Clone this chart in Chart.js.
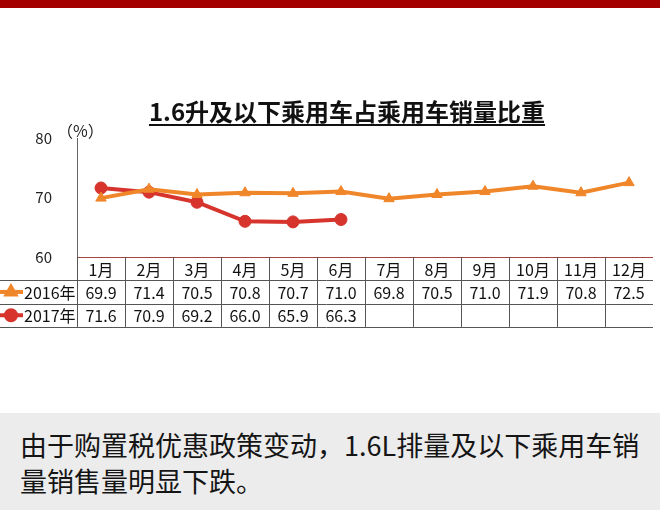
<!DOCTYPE html>
<html>
<head>
<meta charset="utf-8">
<script src="https://cdn.jsdelivr.net/npm/chart.js@4/dist/chart.umd.min.js"></script>
<style>
    html, body { margin: 0; padding: 0; background: #fff; }
    body { width: 660px; height: 510px; position: relative; overflow: hidden; font-family: "Noto Sans CJK SC", sans-serif; }
    #topbar { position: absolute; left: 0; top: 0; width: 660px; height: 8px; background: #a40000; }
    #chart { position: absolute; left: 0; top: 0; }
    #caption {
        position: absolute; left: 0; top: 413px; width: 660px; height: 97px;
        background: #ececec; box-sizing: border-box; padding: 14px 0 0 20px;
        font-size: 27px; line-height: 36px; color: #151515; white-space: nowrap;
    }
</style>
</head>
<body>
<div id="topbar"></div>
<canvas id="chart" width="660" height="340"></canvas>
<div id="caption">由于购置税优惠政策变动，1.6L排量及以下乘用车销<br>量销售量明显下跌。</div>
<script>
// Chart data
const months = ['1月', '2月', '3月', '4月', '5月', '6月', '7月', '8月', '9月', '10月', '11月', '12月'];
const series2016 = [69.9, 71.4, 70.5, 70.8, 70.7, 71.0, 69.8, 70.5, 71.0, 71.9, 70.8, 72.5];
const series2017 = [71.6, 70.9, 69.2, 66.0, 65.9, 66.3, null, null, null, null, null, null];
const seriesNames = ['2016年', '2017年'];
const yTicks = [60, 70, 80];

const chartTitle = '1.6升及以下乘用车占乘用车销量比重';
const unitLabel = '（%）';

const orange = '#f0862a';
const red = '#d6342c';
const font = '"Noto Sans CJK SC", sans-serif';

// Row layout of the data table under the plot
const rowHeight = 23.3;

// Draws the title, unit label and the data table using the chart scales
const tablePlugin = {
    id: 'dataTable',
    afterDraw(chart) {
        const ctx = chart.ctx;
        const area = chart.chartArea;
        const xScale = chart.scales.x;
        const colWidth = area.width / months.length;
        const top = area.bottom;
        const rows = [top, top + rowHeight, top + rowHeight * 2, top + rowHeight * 3];

        ctx.save();

        // Title with underline
        ctx.fillStyle = '#111';
        ctx.font = 'bold 24px ' + font;
        ctx.textAlign = 'center';
        ctx.textBaseline = 'alphabetic';
        const titleX = 347;
        const titleY = 121;
        ctx.fillText(chartTitle, titleX, titleY);
        const tw = ctx.measureText(chartTitle).width;
        ctx.fillRect(titleX - tw / 2, titleY + 3, tw, 2);

        // Unit label
        ctx.font = '16px ' + font;
        ctx.textAlign = 'left';
        ctx.fillStyle = '#222';
        ctx.fillText(unitLabel, 57, 137);

        // Table lines
        ctx.lineWidth = 1;
        ctx.strokeStyle = '#a0473f';
        ctx.beginPath();
        ctx.moveTo(area.left, rows[0] + 0.5);
        ctx.lineTo(area.right, rows[0] + 0.5);
        ctx.stroke();

        ctx.strokeStyle = '#555';
        ctx.beginPath();
        for (let r = 1; r < rows.length; r++) {
            ctx.moveTo(0, Math.round(rows[r]) + 0.5);
            ctx.lineTo(area.right, Math.round(rows[r]) + 0.5);
        }
        for (let i = 0; i < months.length; i++) {
            const x = Math.round(xScale.getPixelForValue(i) - colWidth / 2) + 0.5;
            ctx.moveTo(x, rows[0]);
            ctx.lineTo(x, rows[3]);
        }
        ctx.stroke();

        // Month headers and values
        ctx.textAlign = 'center';
        ctx.textBaseline = 'middle';
        ctx.fillStyle = '#111';
        ctx.font = '16px ' + font;
        months.forEach((m, i) => {
            const cx = xScale.getPixelForValue(i);
            ctx.fillText(m, cx, (rows[0] + rows[1]) / 2 + 1);
            ctx.fillText(series2016[i].toFixed(1), cx, (rows[1] + rows[2]) / 2 + 1);
            if (series2017[i] !== null) {
                ctx.fillText(series2017[i].toFixed(1), cx, (rows[2] + rows[3]) / 2 + 1);
            }
        });

        // Legend keys in the left column
        const keys = [
            { name: seriesNames[0], color: orange, style: 'triangle' },
            { name: seriesNames[1], color: red, style: 'circle' }
        ];
        keys.forEach((k, r) => {
            const cy = (rows[r + 1] + rows[r + 2]) / 2;
            ctx.strokeStyle = k.color;
            ctx.fillStyle = k.color;
            ctx.lineWidth = 4;
            ctx.beginPath();
            ctx.moveTo(0, cy);
            ctx.lineTo(23, cy);
            ctx.stroke();
            Chart.helpers.drawPoint(ctx, { pointStyle: k.style, radius: 5, borderWidth: 1 }, 11, cy);
            ctx.fillStyle = '#111';
            ctx.font = '16px ' + font;
            ctx.textAlign = 'left';
            ctx.fillText(k.name, 24, cy + 1);
        });

        ctx.restore();
    }
};

new Chart(document.getElementById('chart'), {
    type: 'line',
    data: {
        labels: months,
        datasets: [
            {
                label: seriesNames[0],
                data: series2016,
                borderColor: orange,
                backgroundColor: orange,
                borderWidth: 4,
                pointStyle: 'triangle',
                pointRadius: 6,
                pointBorderWidth: 1,
                tension: 0
            },
            {
                label: seriesNames[1],
                data: series2017,
                borderColor: red,
                backgroundColor: red,
                borderWidth: 4,
                pointStyle: 'circle',
                pointRadius: 6,
                pointBorderWidth: 1,
                tension: 0,
                spanGaps: false
            }
        ]
    },
    options: {
        responsive: false,
        animation: false,
        layout: {
            padding: { left: 0, right: 0, top: 138, bottom: 83 }
        },
        plugins: {
            legend: { display: false },
            tooltip: { enabled: false }
        },
        scales: {
            x: {
                display: false,
                offset: true
            },
            y: {
                min: yTicks[0],
                max: yTicks[yTicks.length - 1],
                afterBuildTicks: scale => {
                    scale.ticks = yTicks.map(v => ({ value: v }));
                },
                afterFit: scale => {
                    scale.width = 77;
                },
                grid: { display: false },
                border: { display: true, color: '#666', width: 1 },
                ticks: {
                    padding: 17,
                    color: '#222',
                    font: { size: 15, family: font }
                }
            }
        }
    },
    plugins: [tablePlugin]
});
</script>
</body>
</html>
